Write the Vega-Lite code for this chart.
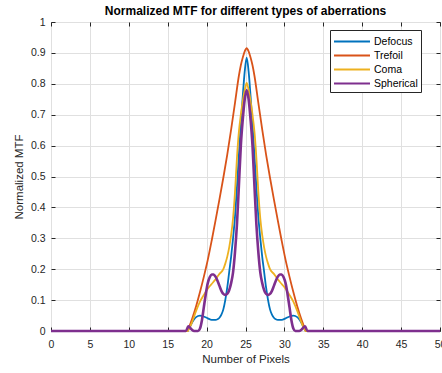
{
"$schema": "https://vega.github.io/schema/vega-lite/v6.json",
"width": 389, "height": 309,
"autosize": {"type": "none"},
"padding": {"left": 51, "top": 22, "right": 2, "bottom": 42},
"background": "white",
"title": {"text": "Normalized MTF for different types of aberrations", "font": "Liberation Sans", "fontSize": 12, "fontWeight": "bold", "color": "#000000", "offset": -1},
"config": {
  "view": {"stroke": "#262626", "strokeWidth": 1},
  "axis": {"labelFont": "Liberation Sans", "labelFontSize": 10.5, "labelColor": "#262626", "titleFont": "Liberation Sans", "titleFontSize": 11.5, "titleFontWeight": "normal", "titleColor": "#262626", "gridColor": "#e0e0e0", "gridWidth": 1, "domain": false, "tickColor": "#262626", "tickSize": -4}
},
"resolve": {"axis": {"x": "independent", "y": "independent"}},
"data": {"values": [
{"s":"Defocus","x":0,"y":0},{"s":"Defocus","x":17.55,"y":0},{"s":"Defocus","x":17.65,"y":0.004},{"s":"Defocus","x":17.9,"y":0.016},{"s":"Defocus","x":18.15,"y":0.028},{"s":"Defocus","x":18.4,"y":0.038},{"s":"Defocus","x":18.65,"y":0.045},{"s":"Defocus","x":19.15,"y":0.05},{"s":"Defocus","x":19.65,"y":0.047},{"s":"Defocus","x":20.15,"y":0.041},{"s":"Defocus","x":20.65,"y":0.036},{"s":"Defocus","x":21.15,"y":0.036},{"s":"Defocus","x":21.4,"y":0.038},{"s":"Defocus","x":21.65,"y":0.043},{"s":"Defocus","x":21.9,"y":0.053},{"s":"Defocus","x":22.15,"y":0.07},{"s":"Defocus","x":22.4,"y":0.1},{"s":"Defocus","x":22.65,"y":0.14},{"s":"Defocus","x":22.9,"y":0.19},{"s":"Defocus","x":23.15,"y":0.24},{"s":"Defocus","x":23.4,"y":0.3},{"s":"Defocus","x":23.65,"y":0.37},{"s":"Defocus","x":23.9,"y":0.465},{"s":"Defocus","x":24.15,"y":0.57},{"s":"Defocus","x":24.4,"y":0.67},{"s":"Defocus","x":24.65,"y":0.76},{"s":"Defocus","x":24.9,"y":0.84},{"s":"Defocus","x":25.15,"y":0.885},{"s":"Defocus","x":25.4,"y":0.84},{"s":"Defocus","x":25.65,"y":0.76},{"s":"Defocus","x":25.9,"y":0.67},{"s":"Defocus","x":26.15,"y":0.57},{"s":"Defocus","x":26.4,"y":0.465},{"s":"Defocus","x":26.65,"y":0.37},{"s":"Defocus","x":26.9,"y":0.3},{"s":"Defocus","x":27.15,"y":0.24},{"s":"Defocus","x":27.4,"y":0.19},{"s":"Defocus","x":27.65,"y":0.14},{"s":"Defocus","x":27.9,"y":0.1},{"s":"Defocus","x":28.15,"y":0.07},{"s":"Defocus","x":28.4,"y":0.053},{"s":"Defocus","x":28.65,"y":0.043},{"s":"Defocus","x":28.9,"y":0.038},{"s":"Defocus","x":29.15,"y":0.036},{"s":"Defocus","x":29.65,"y":0.036},{"s":"Defocus","x":30.15,"y":0.041},{"s":"Defocus","x":30.65,"y":0.047},{"s":"Defocus","x":31.15,"y":0.05},{"s":"Defocus","x":31.65,"y":0.045},{"s":"Defocus","x":31.9,"y":0.038},{"s":"Defocus","x":32.15,"y":0.028},{"s":"Defocus","x":32.4,"y":0.016},{"s":"Defocus","x":32.65,"y":0.004},{"s":"Defocus","x":32.75,"y":0},{"s":"Defocus","x":50,"y":0},
{"s":"Trefoil","x":0,"y":0},{"s":"Trefoil","x":17.55,"y":0},{"s":"Trefoil","x":17.65,"y":0.006},{"s":"Trefoil","x":18.15,"y":0.04},{"s":"Trefoil","x":18.65,"y":0.08},{"s":"Trefoil","x":19.15,"y":0.126},{"s":"Trefoil","x":19.65,"y":0.176},{"s":"Trefoil","x":20.15,"y":0.23},{"s":"Trefoil","x":20.65,"y":0.292},{"s":"Trefoil","x":21.15,"y":0.358},{"s":"Trefoil","x":21.65,"y":0.426},{"s":"Trefoil","x":22.15,"y":0.496},{"s":"Trefoil","x":22.65,"y":0.57},{"s":"Trefoil","x":23.15,"y":0.652},{"s":"Trefoil","x":23.65,"y":0.738},{"s":"Trefoil","x":24.15,"y":0.826},{"s":"Trefoil","x":24.4,"y":0.86},{"s":"Trefoil","x":24.65,"y":0.885},{"s":"Trefoil","x":24.9,"y":0.905},{"s":"Trefoil","x":25.15,"y":0.915},{"s":"Trefoil","x":25.4,"y":0.905},{"s":"Trefoil","x":25.65,"y":0.885},{"s":"Trefoil","x":25.9,"y":0.86},{"s":"Trefoil","x":26.15,"y":0.826},{"s":"Trefoil","x":26.65,"y":0.738},{"s":"Trefoil","x":27.15,"y":0.652},{"s":"Trefoil","x":27.65,"y":0.57},{"s":"Trefoil","x":28.15,"y":0.496},{"s":"Trefoil","x":28.65,"y":0.426},{"s":"Trefoil","x":29.15,"y":0.358},{"s":"Trefoil","x":29.65,"y":0.292},{"s":"Trefoil","x":30.15,"y":0.23},{"s":"Trefoil","x":30.65,"y":0.176},{"s":"Trefoil","x":31.15,"y":0.126},{"s":"Trefoil","x":31.65,"y":0.08},{"s":"Trefoil","x":32.15,"y":0.04},{"s":"Trefoil","x":32.65,"y":0.006},{"s":"Trefoil","x":32.75,"y":0},{"s":"Trefoil","x":50,"y":0},
{"s":"Coma","x":0,"y":0},{"s":"Coma","x":17.55,"y":0},{"s":"Coma","x":17.65,"y":0.003},{"s":"Coma","x":18.15,"y":0.03},{"s":"Coma","x":18.65,"y":0.065},{"s":"Coma","x":19.15,"y":0.095},{"s":"Coma","x":19.65,"y":0.117},{"s":"Coma","x":20.15,"y":0.137},{"s":"Coma","x":20.65,"y":0.152},{"s":"Coma","x":21.15,"y":0.167},{"s":"Coma","x":21.65,"y":0.185},{"s":"Coma","x":22.15,"y":0.2},{"s":"Coma","x":22.4,"y":0.218},{"s":"Coma","x":22.65,"y":0.24},{"s":"Coma","x":22.9,"y":0.27},{"s":"Coma","x":23.15,"y":0.31},{"s":"Coma","x":23.4,"y":0.365},{"s":"Coma","x":23.65,"y":0.45},{"s":"Coma","x":23.9,"y":0.56},{"s":"Coma","x":24.15,"y":0.645},{"s":"Coma","x":24.4,"y":0.7},{"s":"Coma","x":24.65,"y":0.745},{"s":"Coma","x":24.9,"y":0.78},{"s":"Coma","x":25.15,"y":0.803},{"s":"Coma","x":25.4,"y":0.78},{"s":"Coma","x":25.65,"y":0.745},{"s":"Coma","x":25.9,"y":0.7},{"s":"Coma","x":26.15,"y":0.645},{"s":"Coma","x":26.4,"y":0.56},{"s":"Coma","x":26.65,"y":0.45},{"s":"Coma","x":26.9,"y":0.365},{"s":"Coma","x":27.15,"y":0.31},{"s":"Coma","x":27.4,"y":0.27},{"s":"Coma","x":27.65,"y":0.24},{"s":"Coma","x":27.9,"y":0.218},{"s":"Coma","x":28.15,"y":0.2},{"s":"Coma","x":28.65,"y":0.185},{"s":"Coma","x":29.15,"y":0.167},{"s":"Coma","x":29.65,"y":0.152},{"s":"Coma","x":30.15,"y":0.137},{"s":"Coma","x":30.65,"y":0.117},{"s":"Coma","x":31.15,"y":0.095},{"s":"Coma","x":31.65,"y":0.065},{"s":"Coma","x":32.15,"y":0.03},{"s":"Coma","x":32.65,"y":0.003},{"s":"Coma","x":32.75,"y":0},{"s":"Coma","x":50,"y":0},
{"s":"Spherical","x":0,"y":0},{"s":"Spherical","x":17.35,"y":0},{"s":"Spherical","x":17.65,"y":0.015},{"s":"Spherical","x":17.9,"y":0.01},{"s":"Spherical","x":18.15,"y":0.003},{"s":"Spherical","x":18.4,"y":0},{"s":"Spherical","x":18.9,"y":0},{"s":"Spherical","x":19.15,"y":0.008},{"s":"Spherical","x":19.4,"y":0.035},{"s":"Spherical","x":19.65,"y":0.078},{"s":"Spherical","x":19.9,"y":0.12},{"s":"Spherical","x":20.15,"y":0.155},{"s":"Spherical","x":20.4,"y":0.174},{"s":"Spherical","x":20.65,"y":0.183},{"s":"Spherical","x":20.9,"y":0.183},{"s":"Spherical","x":21.15,"y":0.176},{"s":"Spherical","x":21.4,"y":0.163},{"s":"Spherical","x":21.65,"y":0.146},{"s":"Spherical","x":21.9,"y":0.13},{"s":"Spherical","x":22.15,"y":0.12},{"s":"Spherical","x":22.4,"y":0.117},{"s":"Spherical","x":22.65,"y":0.12},{"s":"Spherical","x":22.9,"y":0.132},{"s":"Spherical","x":23.15,"y":0.155},{"s":"Spherical","x":23.4,"y":0.19},{"s":"Spherical","x":23.65,"y":0.255},{"s":"Spherical","x":23.9,"y":0.345},{"s":"Spherical","x":24.15,"y":0.47},{"s":"Spherical","x":24.4,"y":0.6},{"s":"Spherical","x":24.65,"y":0.685},{"s":"Spherical","x":24.9,"y":0.75},{"s":"Spherical","x":25.15,"y":0.78},{"s":"Spherical","x":25.4,"y":0.75},{"s":"Spherical","x":25.65,"y":0.685},{"s":"Spherical","x":25.9,"y":0.6},{"s":"Spherical","x":26.15,"y":0.47},{"s":"Spherical","x":26.4,"y":0.345},{"s":"Spherical","x":26.65,"y":0.255},{"s":"Spherical","x":26.9,"y":0.19},{"s":"Spherical","x":27.15,"y":0.155},{"s":"Spherical","x":27.4,"y":0.132},{"s":"Spherical","x":27.65,"y":0.12},{"s":"Spherical","x":27.9,"y":0.117},{"s":"Spherical","x":28.15,"y":0.12},{"s":"Spherical","x":28.4,"y":0.13},{"s":"Spherical","x":28.65,"y":0.146},{"s":"Spherical","x":28.9,"y":0.163},{"s":"Spherical","x":29.15,"y":0.176},{"s":"Spherical","x":29.4,"y":0.183},{"s":"Spherical","x":29.65,"y":0.183},{"s":"Spherical","x":29.9,"y":0.174},{"s":"Spherical","x":30.15,"y":0.155},{"s":"Spherical","x":30.4,"y":0.12},{"s":"Spherical","x":30.65,"y":0.078},{"s":"Spherical","x":30.9,"y":0.035},{"s":"Spherical","x":31.15,"y":0.008},{"s":"Spherical","x":31.4,"y":0},{"s":"Spherical","x":31.9,"y":0},{"s":"Spherical","x":32.15,"y":0.003},{"s":"Spherical","x":32.4,"y":0.01},{"s":"Spherical","x":32.65,"y":0.015},{"s":"Spherical","x":32.95,"y":0},{"s":"Spherical","x":50,"y":0}
]},
"encoding": {
  "color": {"field": "s", "type": "nominal", "scale": {"domain": ["Defocus", "Trefoil", "Coma", "Spherical"], "range": ["#0072BD", "#D95319", "#EDB120", "#7E2F8E"]},
    "legend": {"title": null, "orient": "none", "legendX": 279, "legendY": 8, "direction": "vertical", "fillColor": "white", "strokeColor": "#262626", "padding": 3, "cornerRadius": 0, "symbolType": "M-1,0H3.8", "symbolSize": 225, "symbolStrokeWidth": 2, "labelOffset": 24, "labelFont": "Liberation Sans", "labelFontSize": 10.5, "labelColor": "#000000", "rowPadding": 0, "labelLimit": 200}}
},
"layer": [
  {"transform": [{"filter": "datum.s !== 'Spherical'"}],
   "mark": {"type": "line", "strokeWidth": 1.8, "interpolate": "monotone"},
   "encoding": {
     "x": {"field": "x", "type": "quantitative", "scale": {"domain": [0, 50], "nice": false, "zero": false},
       "axis": {"title": "Number of Pixels", "values": [0,5,10,15,20,25,30,35,40,45,50], "labelPadding": 12, "titlePadding": 4, "grid": true, "labelFlush": false, "labelOverlap": false}},
     "y": {"field": "y", "type": "quantitative", "scale": {"domain": [0, 1], "nice": false},
       "axis": {"title": "Normalized MTF", "values": [0,0.1,0.2,0.3,0.4,0.5,0.6,0.7,0.8,0.9,1], "format": ".1~f", "labelPadding": 10, "titlePadding": 6, "grid": true, "labelFlush": false, "labelOverlap": false}}
   }},
  {"transform": [{"filter": "datum.s === 'Spherical'"}],
   "mark": {"type": "line", "strokeWidth": 2.6, "interpolate": "monotone"},
   "encoding": {
     "x": {"field": "x", "type": "quantitative", "scale": {"domain": [0, 50], "nice": false, "zero": false},
       "axis": {"orient": "top", "title": null, "labels": false, "grid": false, "values": [0,5,10,15,20,25,30,35,40,45,50]}},
     "y": {"field": "y", "type": "quantitative", "scale": {"domain": [0, 1], "nice": false},
       "axis": {"orient": "right", "title": null, "labels": false, "grid": false, "values": [0,0.1,0.2,0.3,0.4,0.5,0.6,0.7,0.8,0.9,1]}}
   }}
]
}
